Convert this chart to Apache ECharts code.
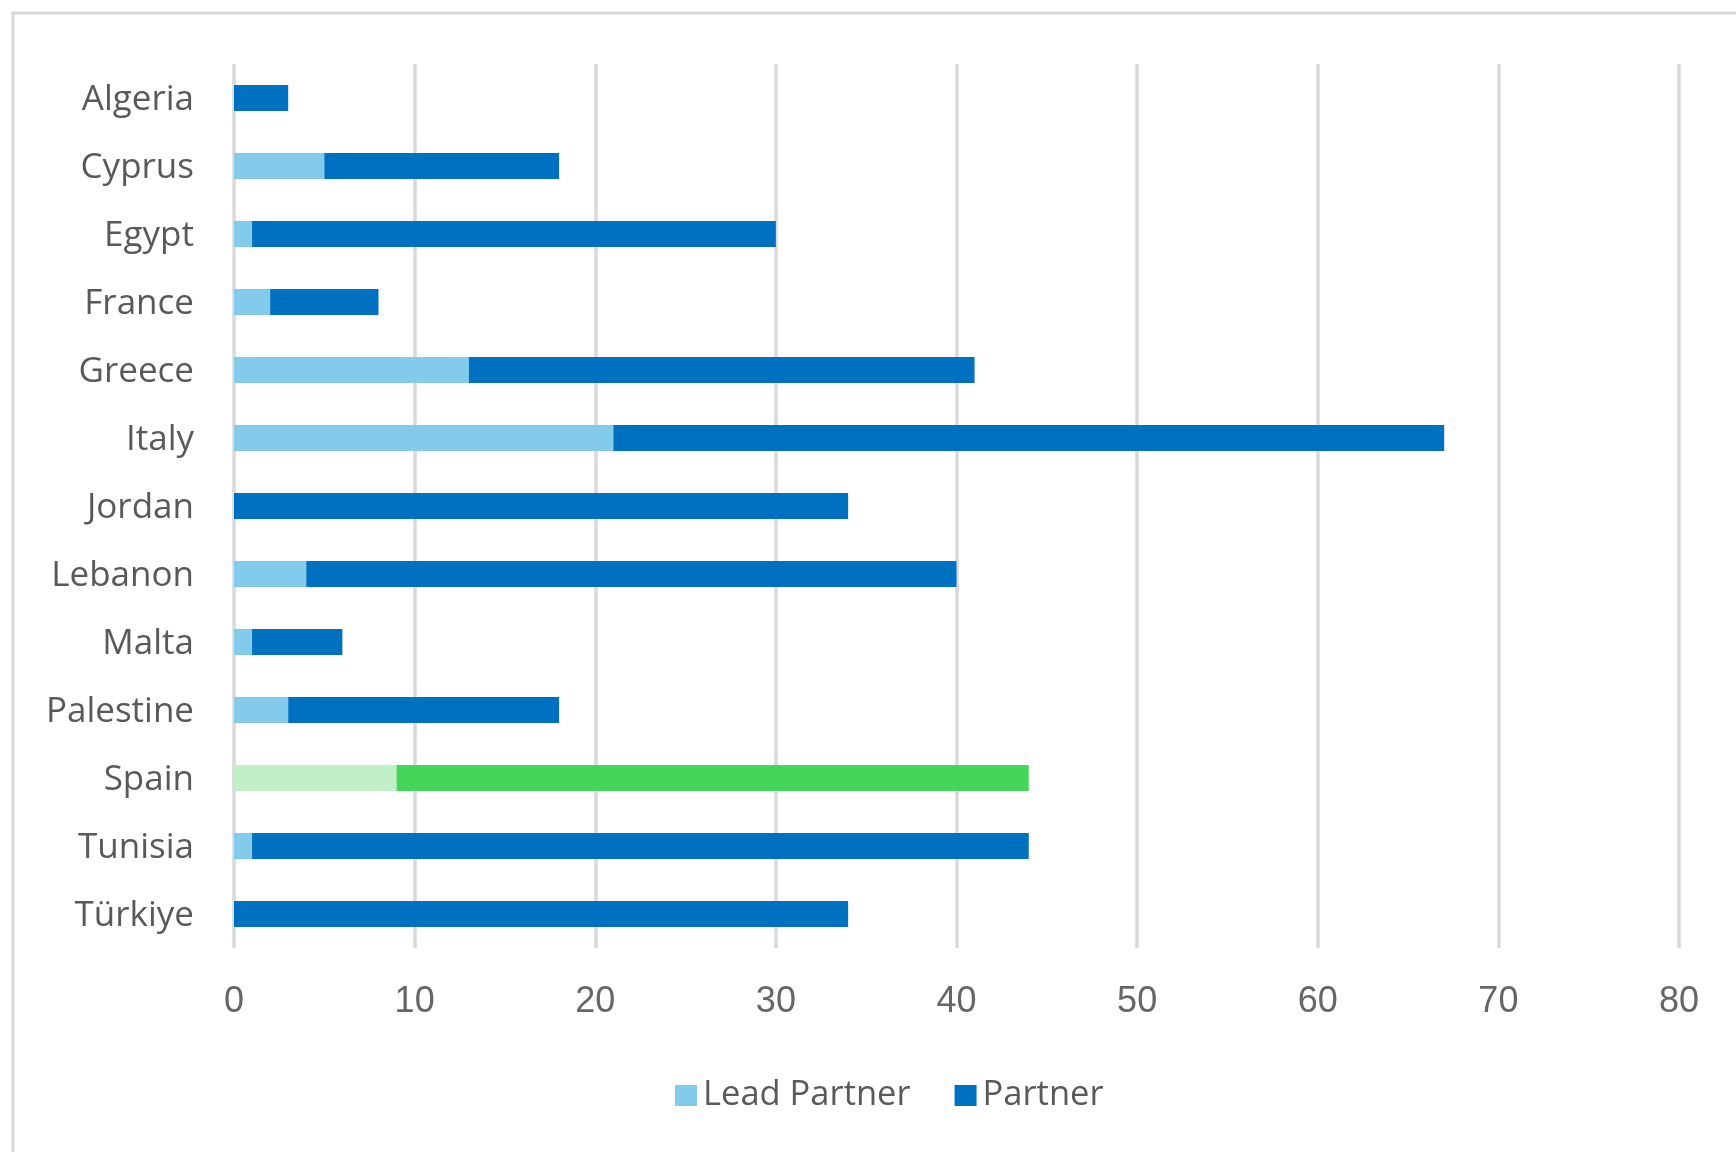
<!DOCTYPE html>
<html>
<head>
<meta charset="utf-8">
<script src="https://cdn.jsdelivr.net/npm/echarts@6/dist/echarts.min.js"></script>
<style>
  html, body { margin: 0; padding: 0; background: #fff; }
  #chart { width: 1736px; height: 1152px; }
</style>
</head>
<body>
<div id="chart"></div>
<script>
const countries = ["Algeria","Cyprus","Egypt","France","Greece","Italy","Jordan","Lebanon","Malta","Palestine","Spain","Tunisia","Türkiye"];
const leadPartner = [0, 5, 1, 2, 13, 21, 0, 4, 1, 3, 9, 1, 0];
const partner = [3, 13, 29, 6, 28, 46, 34, 36, 5, 15, 35, 43, 34];
const xTicks = [0, 10, 20, 30, 40, 50, 60, 70, 80];
const highlightCountry = "Spain";

const colLead = "#83CBEB", colPartner = "#0070C0";
const colLeadHi = "#C1F0C8", colPartnerHi = "#47D45A";

function withHighlight(values, hiColor) {
  return values.map((v, i) => countries[i] === highlightCountry
    ? { value: v, itemStyle: { color: hiColor } } : v);
}

const chart = echarts.init(document.getElementById('chart'));
const font = "'Open Sans', 'Noto Sans', sans-serif";
chart.setOption({
  animation: false,
  backgroundColor: '#fff',
  graphic: [{
    type: 'rect', silent: true, z: -1,
    shape: { x: 13, y: 13, width: 1800, height: 1200 },
    style: { fill: 'none', stroke: '#D9D9D9', lineWidth: 3 }
  }],
  grid: { left: 234, right: 57, top: 64, bottom: 204, containLabel: false },
  legend: {
    left: 670, top: 1073,
    itemWidth: 22, itemHeight: 21, itemGap: 44,
    icon: 'rect',
    textStyle: { fontFamily: font, fontSize: 34.5, color: '#595959', padding: [0, 0, 0, 1] },
    data: ['Lead Partner', 'Partner']
  },
  xAxis: {
    type: 'value', min: xTicks[0], max: xTicks[xTicks.length - 1], interval: 10,
    axisLine: { show: false }, axisTick: { show: false },
    splitLine: { show: true, lineStyle: { color: '#D9D9D9', width: 3.5 } },
    axisLabel: { fontFamily: "'Liberation Sans', Arial, sans-serif", fontSize: 36, color: '#666666', margin: 36 }
  },
  yAxis: {
    type: 'category', inverse: true, data: countries,
    axisLine: { show: false }, axisTick: { show: false },
    axisLabel: {
      margin: 40,
      formatter: v => '{c|' + v + '}',
      rich: { c: { fontFamily: font, fontSize: 35, color: '#595959', padding: [5, 0, 0, 0] } }
    }
  },
  series: [
    { name: 'Lead Partner', type: 'bar', stack: 'total', barWidth: 26,
      itemStyle: { color: colLead }, data: withHighlight(leadPartner, colLeadHi) },
    { name: 'Partner', type: 'bar', stack: 'total', barWidth: 26,
      itemStyle: { color: colPartner }, data: withHighlight(partner, colPartnerHi) }
  ]
});
</script>
</body>
</html>
